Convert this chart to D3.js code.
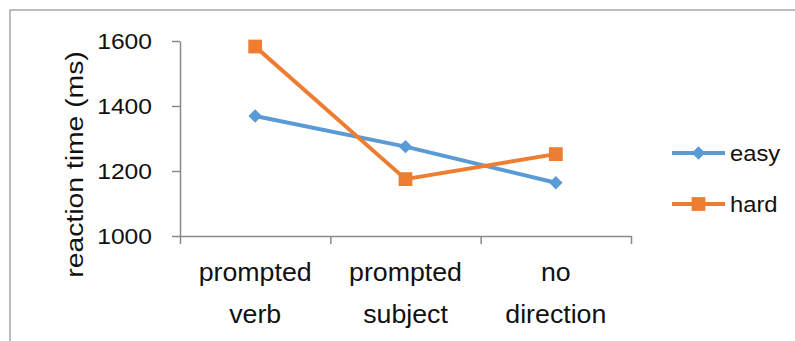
<!DOCTYPE html>
<html>
<head>
<meta charset="utf-8">
<script src="https://cdn.jsdelivr.net/npm/d3@7"></script>
<style>
  html, body { margin: 0; padding: 0; background: #fff; }
  svg { display: block; }
  text { font-family: "Liberation Sans", Arial, sans-serif; fill: #111; }
</style>
</head>
<body>
<svg id="chart" width="795" height="341"></svg>
<script>
// Reaction time by prompt condition, for easy and hard items
const categories = [["prompted", "verb"], ["prompted", "subject"], ["no", "direction"]];
const seriesNames = ["easy", "hard"];
const easyValues = [1369, 1275, 1164];
const hardValues = [1583, 1175, 1252];
const yTicks = [1000, 1200, 1400, 1600];
const yTitle = "reaction time (ms)";

const colors = { easy: "#5B9BD5", hard: "#ED7D31" };
const series = [
  { name: seriesNames[0], values: easyValues, shape: "diamond" },
  { name: seriesNames[1], values: hardValues, shape: "square" }
];

const svg = d3.select("#chart");
const plot = { left: 180, right: 631, top: 41, bottom: 236 };
const axisColor = "#8a8a8a";

// outer chart frame
svg.append("rect")
  .attr("x", 10).attr("y", 10)
  .attr("width", 800).attr("height", 350)
  .attr("fill", "none").attr("stroke", "#a8a8a8").attr("stroke-width", 1.5);

const x = d3.scaleBand().domain(d3.range(categories.length)).range([plot.left, plot.right]);
const xEdge = d3.scaleLinear().domain([0, categories.length]).range([plot.left, plot.right]);
const y = d3.scaleLinear().domain([1000, 1600]).range([plot.bottom, plot.top]);
const cx = i => x(i) + x.bandwidth() / 2;

// y axis line and ticks
const gy = svg.append("g").attr("transform", `translate(${plot.left},0)`)
  .call(d3.axisLeft(y).tickValues(yTicks).tickSize(8).tickSizeOuter(0).tickFormat(""));
// x axis line and category boundary ticks
const gx = svg.append("g").attr("transform", `translate(0,${plot.bottom})`)
  .call(d3.axisBottom(xEdge).tickValues(d3.range(categories.length + 1)).tickSize(8).tickSizeOuter(0).tickFormat(""));
[gx, gy].forEach(g => {
  g.selectAll("path, line").attr("stroke", axisColor).attr("stroke-width", 1.5);
  g.selectAll("text").remove();
});

// y tick labels
svg.append("g").selectAll("text").data(yTicks).join("text")
  .attr("transform", d => `translate(152,${y(d) + 8}) scale(1.12,1)`)
  .attr("text-anchor", "end")
  .style("font-size", "22px")
  .text(d => d);

// category labels, two lines each
const catG = svg.append("g").selectAll("g").data(categories).join("g");
catG.each(function (lines, i) {
  d3.select(this).selectAll("text").data(lines).join("text")
    .attr("transform", (d, j) => `translate(${cx(i)},${281 + j * 42}) scale(1.07,1)`)
    .attr("text-anchor", "middle")
    .style("font-size", "25px")
    .text(d => d);
});

// y axis title
svg.append("text")
  .attr("transform", `translate(83,${(plot.top + plot.bottom) / 2 + 26}) rotate(-90) scale(1.18,1)`)
  .attr("text-anchor", "middle")
  .style("font-size", "24px")
  .text(yTitle);

const diamond = d3.symbol().type(d3.symbolDiamond2).size(115);
const square = d3.symbol().type(d3.symbolSquare).size(190);
function marker(sel, shape, color) {
  sel.append("path")
    .attr("d", shape === "diamond" ? diamond() : square())
    .attr("fill", color);
}

// series lines and markers
const line = d3.line().x((d, i) => cx(i)).y(d => y(d));
series.forEach(s => {
  const g = svg.append("g");
  g.append("path").datum(s.values)
    .attr("d", line)
    .attr("fill", "none")
    .attr("stroke", colors[s.name])
    .attr("stroke-width", 4)
    .attr("stroke-linejoin", "round");
  g.selectAll("g.pt").data(s.values).join("g")
    .attr("class", "pt")
    .attr("transform", (d, i) => `translate(${cx(i)},${y(d)})`)
    .each(function () { marker(d3.select(this), s.shape, colors[s.name]); });
});

// legend
const legend = svg.append("g").selectAll("g").data(series).join("g")
  .attr("transform", (d, i) => `translate(672,${153 + i * 51})`);
legend.append("line")
  .attr("x1", 0).attr("x2", 53).attr("y1", 0).attr("y2", 0)
  .attr("stroke", d => colors[d.name]).attr("stroke-width", 4);
legend.each(function (d) {
  const m = d3.select(this).append("g").attr("transform", "translate(26.5,0)");
  marker(m, d.shape, colors[d.name]);
});
legend.append("text")
  .attr("transform", "translate(58,8) scale(1.08,1)")
  .style("font-size", "22px")
  .text(d => d.name);
</script>
</body>
</html>
